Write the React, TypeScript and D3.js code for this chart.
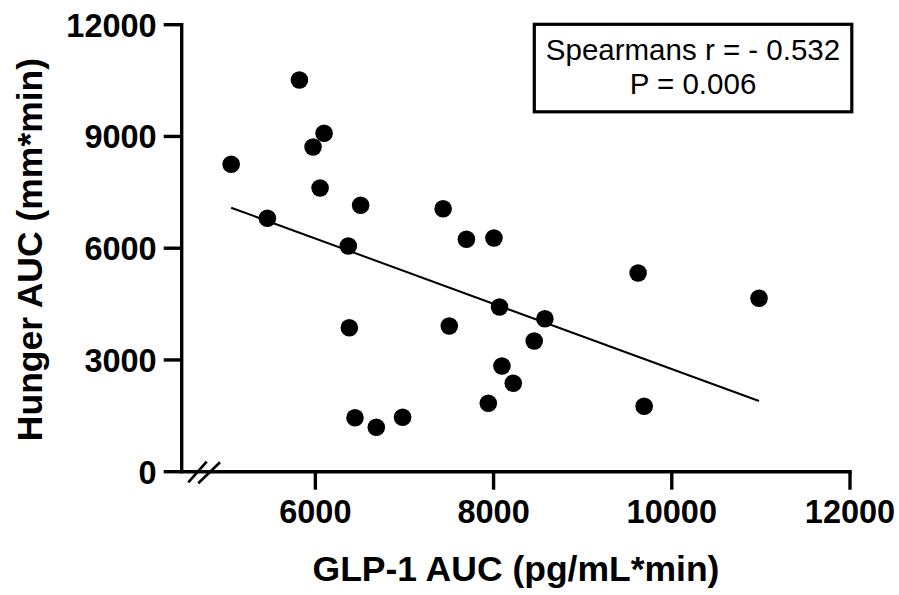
import React from 'react';
import * as d3 from 'd3';

// values
const glp1Auc = [
  5821, 6098, 5974, 5055, 6053, 6508, 5462, 6370, 6381, 6445, 6684, 6979, 7434,
  7695, 8004, 8067, 8576, 7503, 8456, 8094, 8221, 7941, 9622, 10979, 9690,
];
const hungerAuc = [
  10515, 9085, 8717, 8252, 7616, 7152, 6803, 6059, 3866, 1450, 1192, 1460, 7060,
  6239, 6274, 4421, 4107, 3911, 3509, 2838, 2373, 1836, 5334, 4655, 1756,
];
// fitted line, ends
const fitX = [5055, 10979];
const fitY = [7087, 1898];

const xTicks = [6000, 8000, 10000, 12000];
const yTicks = [0, 3000, 6000, 9000, 12000];
const xTitle = 'GLP-1 AUC (pg/mL*min)';
const yTitle = 'Hunger AUC (mm*min)';
const statLines = ['Spearmans r = - 0.532', 'P = 0.006'];

const WIDTH = 899;
const HEIGHT = 595;
const FONT = '"Liberation Sans", Arial, Helvetica, sans-serif';
const AXIS_W = 3.4;
const TICK_LEN = 18;

const App = () => {
  const x = d3.scaleLinear().domain([4500, 12000]).range([181.7, 850]);
  const y = d3.scaleLinear().domain([0, 12000]).range([471.7, 24.7]);

  const points = glp1Auc.map((gx, i) => ({ gx, hy: hungerAuc[i] }));
  const fitLine = d3
    .line<number>()
    .x((d) => x(d))
    .y((_, i) => y(fitY[i]))(fitX);

  const x0 = x.range()[0];
  const y0 = y.range()[0];

  return (
    <svg
      width={WIDTH}
      height={HEIGHT}
      style={{ position: 'absolute', left: 0, top: 0, background: '#fff' }}
      fontFamily={FONT}
    >
      {/* y axis */}
      <line x1={x0} x2={x0} y1={y(12000) - AXIS_W / 2} y2={y0} stroke="#000" strokeWidth={AXIS_W} />
      {yTicks.map((t) => (
        <g key={'y' + t}>
          <line x1={x0 - TICK_LEN} x2={x0} y1={y(t)} y2={y(t)} stroke="#000" strokeWidth={AXIS_W} />
          <text
            x={x0 - 25}
            y={y(t) + 11.8}
            textAnchor="end"
            fontSize={32.5}
            fontWeight="bold"
          >
            {t}
          </text>
        </g>
      ))}

      {/* x axis */}
      <line x1={x0 - AXIS_W / 2} x2={x(12000) + AXIS_W / 2} y1={y0} y2={y0} stroke="#000" strokeWidth={AXIS_W} />
      {xTicks.map((t) => (
        <g key={'x' + t}>
          <line x1={x(t)} x2={x(t)} y1={y0} y2={y0 + TICK_LEN} stroke="#000" strokeWidth={AXIS_W} />
          <text x={x(t)} y={523} textAnchor="middle" fontSize={32.5} fontWeight="bold">
            {t}
          </text>
        </g>
      ))}
      {/* axis break marks */}
      <line x1={188.3} y1={482.3} x2={206.7} y2={461.7} stroke="#000" strokeWidth={2.6} />
      <line x1={198.3} y1={483.3} x2={220} y2={462.3} stroke="#000" strokeWidth={2.6} />

      {/* titles */}
      <text x={516} y={581} textAnchor="middle" fontSize={35.5} fontWeight="bold">
        {xTitle}
      </text>
      <text
        transform={`translate(41.5, 249.5) rotate(-90)`}
        textAnchor="middle"
        fontSize={35.5}
        fontWeight="bold"
      >
        {yTitle}
      </text>

      {/* fit line */}
      <path d={fitLine ?? ''} fill="none" stroke="#000" strokeWidth={2} />

      {/* points */}
      {points.map((p, i) => (
        <circle key={i} cx={x(p.gx)} cy={y(p.hy)} r={8.8} fill="#000" />
      ))}

      {/* stats box */}
      <rect x={534.3} y={24.3} width={317.5} height={87.5} fill="#fff" stroke="#000" strokeWidth={3.2} />
      {statLines.map((s, i) => (
        <text key={s} x={693} y={60 + i * 34.3} textAnchor="middle" fontSize={29.5}>
          {s}
        </text>
      ))}
    </svg>
  );
};

export default App;
